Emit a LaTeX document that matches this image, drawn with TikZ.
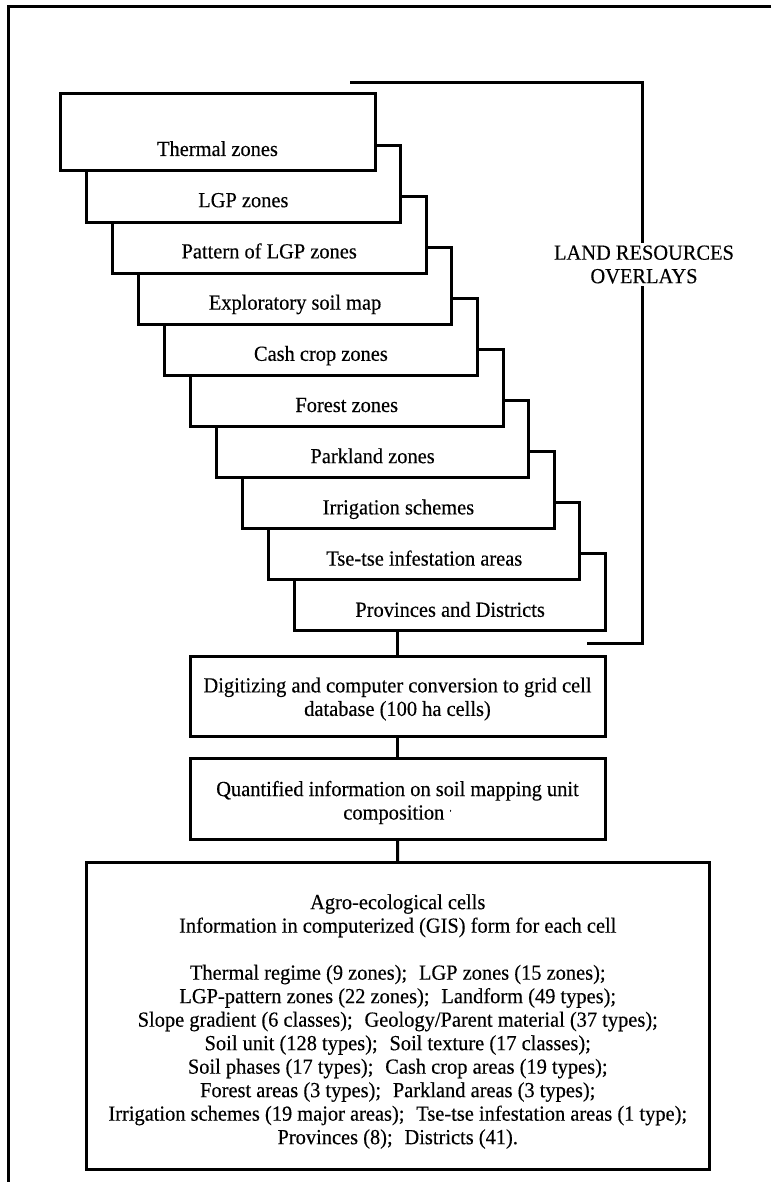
\documentclass[tikz,border=0pt]{standalone}
\usepackage{fontspec}
\setmainfont{Liberation Serif}[FakeStretch=0.95,FakeBold=0.3]
\newcommand\sepgap{\hspace{0.55em}}
\begin{document}
\begin{tikzpicture}[x=1pt,y=-1pt,line width=3pt,
  font=\fontsize{21.5pt}{23.5pt}\selectfont,
  ovbox/.style={draw,fill=white,inner sep=0pt,outer sep=0pt,anchor=north west},
  ovtext/.style={anchor=base,inner sep=0pt},
  flowbox/.style={draw,fill=white,inner sep=0pt,outer sep=0pt,anchor=north west},
  flowtext/.style={align=center,inner sep=0pt}]
\useasboundingbox (0,0) rectangle (771,1182);
% outer frame
\coordinate (ftr) at (771,7);
\coordinate (ftl) at (8,7);
\coordinate (fbl) at (8,1182);
\draw (ftr) -- (ftl) -- (fbl);
% bracket
\coordinate (brtl) at (350,83);
\coordinate (brtr) at (642,83);
\coordinate (brbr) at (642,643);
\coordinate (brbl) at (586.5,643);
\draw (brtl) -- (brtr) -- (brbr) -- (brbl);
\node[fill=white,align=center,inner sep=2pt] (lro) at (644,264.5) {LAND RESOURCES\\OVERLAYS};
% stacked overlays
\foreach \k/\t in {9/Provinces and Districts,8/Tse-tse infestation areas,7/Irrigation schemes,6/Parkland zones,5/Forest zones,4/Cash crop zones,3/Exploratory soil map,2/Pattern of LGP zones,1/LGP zones,0/Thermal zones}{
  \pgfmathsetmacro\bl{60+26.1*\k}
  \pgfmathsetmacro\bt{94+51.1*\k}
  \pgfmathsetmacro\bw{315-0.5*\k}
  \pgfmathsetmacro\cx{217.5+25.85*\k}
  \pgfmathsetmacro\by{156+51.2*\k}
  \node[ovbox,minimum width=\bw pt,minimum height=77pt] (b\k) at (\bl,\bt) {};
  \node[ovtext] (t\k) at (\cx,\by) {\t};
}
% flow boxes
\node[flowbox,minimum width=415pt,minimum height=80pt] (dig) at (190,656) {};
\node[flowtext] (digt) at ([yshift=-3pt]dig.center)
  {Digitizing and computer conversion to grid cell\\database (100 ha cells)};
\node[flowbox,minimum width=415pt,minimum height=81pt] (quant) at (190,758) {};
\node[flowtext] (quantt) at ([yshift=-4pt]quant.center)
  {Quantified information on soil mapping unit\\composition \raisebox{0.5ex}{\scriptsize '}};
\node[flowbox,minimum width=623.5pt,minimum height=307pt] (final) at (86,862) {};
\node[flowtext] (finalt) at ([yshift=-6pt]final.center)
  {Agro-ecological cells\\
   Information in computerized (GIS) form for each cell\\[23.5pt]
   Thermal regime (9 zones);\sepgap LGP zones (15 zones);\\
   LGP-pattern zones (22 zones);\sepgap Landform (49 types);\\
   Slope gradient (6 classes);\sepgap Geology/Parent material (37 types);\\
   Soil unit (128 types);\sepgap Soil texture (17 classes);\\
   Soil phases (17 types);\sepgap Cash crop areas (19 types);\\
   Forest areas (3 types);\sepgap Parkland areas (3 types);\\
   Irrigation schemes (19 major areas);\sepgap Tse-tse infestation areas (1 type);\\
   Provinces (8);\sepgap Districts (41).};
% connectors
\draw (dig.north) -- (dig.north |- b9.south);
\draw (quant.north) -- (dig.south);
\draw (final.north) -- (quant.south);
\end{tikzpicture}
\end{document}
